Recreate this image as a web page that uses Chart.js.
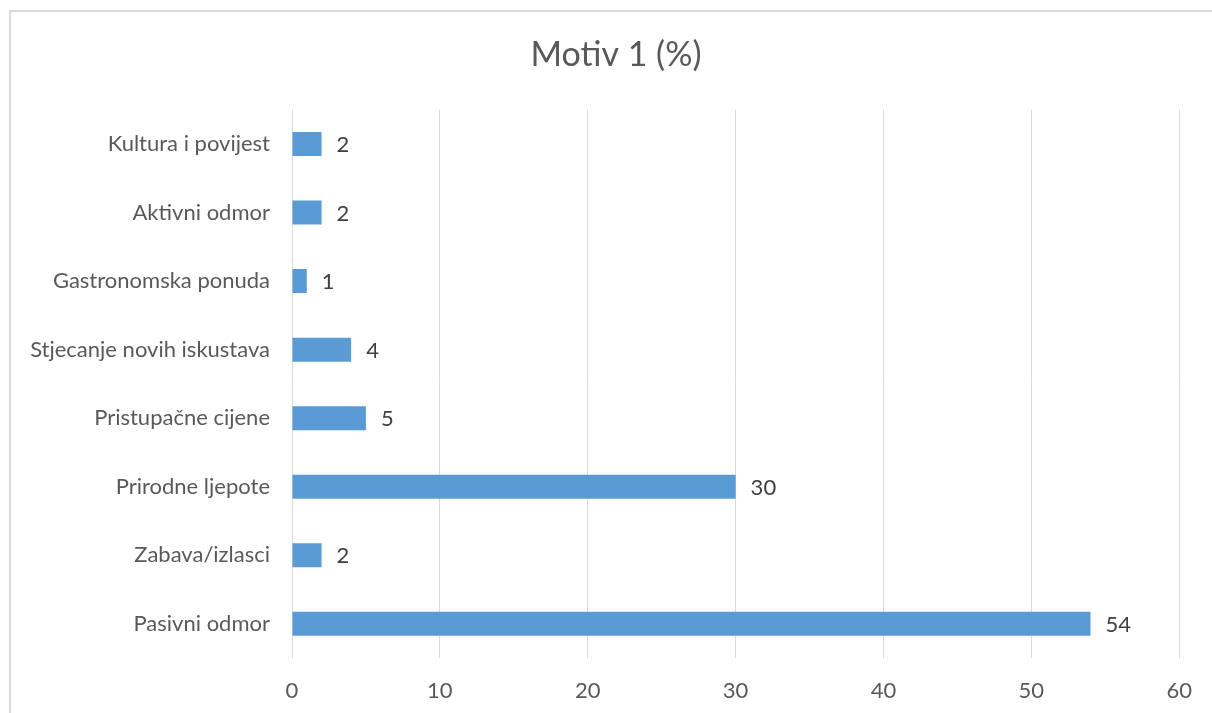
<!DOCTYPE html>
<html>
<head>
<meta charset="utf-8">
<script src="https://cdn.jsdelivr.net/npm/chart.js@4/dist/chart.umd.min.js"></script>
<style>
  html, body { margin: 0; padding: 0; background: #fff; overflow: hidden; }
  #wrap { position: relative; width: 1212px; height: 713px; }
  #frame { position: absolute; left: 9px; top: 10px; width: 1230px; height: 730px; border: 2px solid #d9d9d9; box-sizing: border-box; }
  canvas { position: absolute; left: 0; top: 0; }
</style>
</head>
<body>
<div id="wrap">
  <div id="frame"></div>
  <canvas id="chart" width="1212" height="713"></canvas>
</div>
<script>
// Chart data (top to bottom as shown)
const categories = [
  'Kultura i povijest',
  'Aktivni odmor',
  'Gastronomska ponuda',
  'Stjecanje novih iskustava',
  'Pristupačne cijene',
  'Prirodne ljepote',
  'Zabava/izlasci',
  'Pasivni odmor'
];
const values = [2, 2, 1, 4, 5, 30, 2, 54];
const xTicks = [0, 10, 20, 30, 40, 50, 60];

const FONT = 'Lato, "Open Sans", sans-serif';

// draws the number to the right of each bar
const barLabels = {
  id: 'barLabels',
  afterDatasetsDraw(chart) {
    const ctx = chart.ctx;
    const meta = chart.getDatasetMeta(0);
    ctx.save();
    ctx.font = '22px ' + FONT;
    ctx.fillStyle = '#404040';
    ctx.textAlign = 'left';
    ctx.textBaseline = 'middle';
    meta.data.forEach((bar, i) => {
      ctx.fillText(String(values[i]), bar.x + 15, bar.y + 1);
    });
    ctx.restore();
  }
};

// the title is centred on the outer frame, not on the canvas
const shiftTitle = {
  id: 'shiftTitle',
  afterLayout(chart) {
    const t = chart.titleBlock;
    if (t) { t.left += 24; t.right += 24; }
  }
};

new Chart(document.getElementById('chart').getContext('2d'), {
  type: 'bar',
  data: {
    labels: categories,
    datasets: [{
      data: values,
      backgroundColor: '#5b9bd5',
      borderWidth: 0,
      barPercentage: 0.7,
      categoryPercentage: 0.5
    }]
  },
  plugins: [barLabels, shiftTitle],
  options: {
    indexAxis: 'y',
    responsive: false,
    animation: false,
    layout: { padding: { left: 0, right: 28, top: 0, bottom: 0 } },
    plugins: {
      legend: { display: false },
      tooltip: { enabled: false },
      title: {
        display: true,
        text: 'Motiv 1 (%)',
        color: '#595959',
        font: { family: FONT, size: 34, weight: 'normal' },
        padding: { top: 35, bottom: 34 }
      }
    },
    scales: {
      x: {
        min: 0,
        max: 60,
        afterBuildTicks: scale => { scale.ticks = xTicks.map(v => ({ value: v })); },
        afterFit: scale => { scale.height = 55; },
        grid: { color: '#d9d9d9', lineWidth: 1, drawTicks: false },
        border: { display: false },
        ticks: { color: '#595959', font: { family: FONT, size: 22 }, padding: 20 }
      },
      y: {
        afterFit: scale => { scale.width = 292; },
        grid: { display: false },
        border: { display: false },
        ticks: { color: '#595959', font: { family: FONT, size: 22 }, padding: 14 }
      }
    }
  }
});
</script>
</body>
</html>
